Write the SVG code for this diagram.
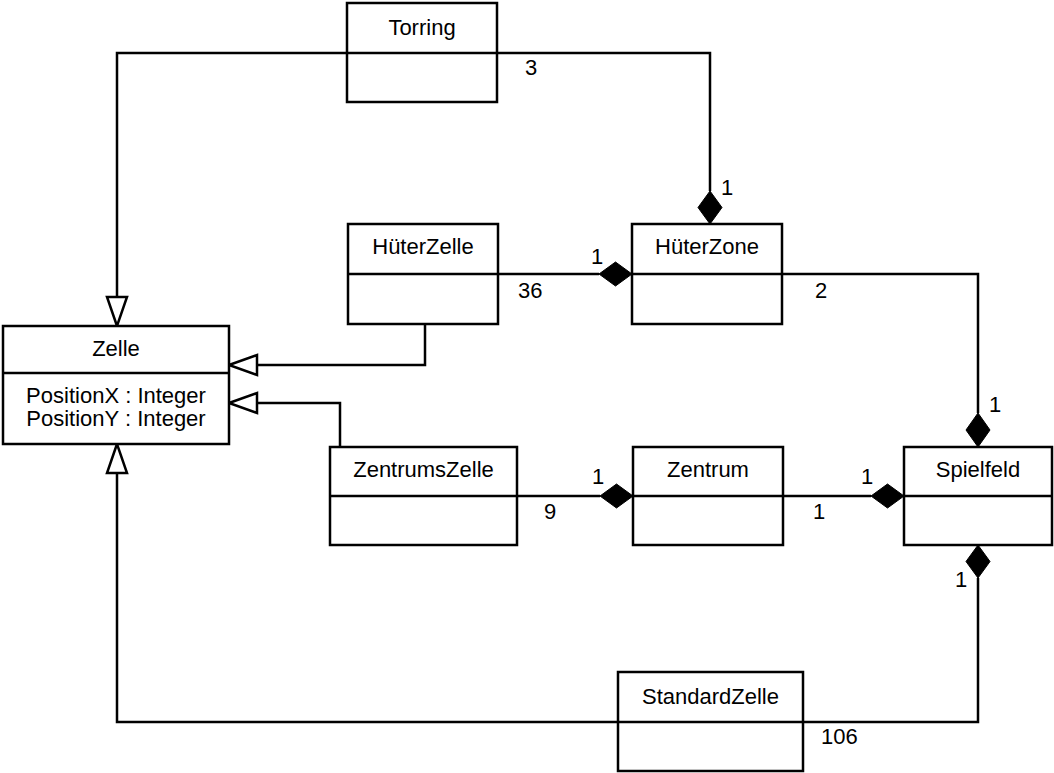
<svg xmlns="http://www.w3.org/2000/svg" width="1054" height="773" viewBox="0 0 1054 773">
<style>
.box{fill:#fff;stroke:#000;stroke-width:2.5}
.div{stroke:#000;stroke-width:2.5}
.ln{fill:none;stroke:#000;stroke-width:2.5}
.tri{fill:#fff;stroke:#000;stroke-width:2.5}
.dia{fill:#000;stroke:#000;stroke-width:1}
text{font-family:"Liberation Sans",Arial,sans-serif;font-size:22px;fill:#000}
.c{text-anchor:middle}
</style>
<rect width="1054" height="773" fill="#fff"/>
<g id="connectors">
<polyline class="ln" points="347,53 117,53 117,297"/>
<polygon class="tri" points="117,326 107,297 127,297"/>
<polyline class="ln" points="497,53 710,53 710,191"/>
<polygon class="dia" points="710,224 698,207.5 710,191 722,207.5"/>
<text x="525" y="75">3</text>
<text x="721" y="195">1</text>
<polyline class="ln" points="425,324 425,365 257,365"/>
<polygon class="tri" points="229,365 257,355 257,375"/>
<polyline class="ln" points="498,274 599,274"/>
<polygon class="dia" points="632,274 615.5,262 599,274 615.5,286"/>
<text x="518" y="298">36</text>
<text x="591" y="264">1</text>
<polyline class="ln" points="782,274 978,274 978,413"/>
<polygon class="dia" points="978,447 966,430 978,413 990,430"/>
<text x="815" y="298">2</text>
<text x="989" y="412">1</text>
<polyline class="ln" points="340,447 340,403 257,403"/>
<polygon class="tri" points="229,403 257,393 257,413"/>
<polyline class="ln" points="517,496 600,496"/>
<polygon class="dia" points="633,496 616.5,484 600,496 616.5,508"/>
<text x="544" y="519">9</text>
<text x="592" y="484">1</text>
<polyline class="ln" points="783,496 871,496"/>
<polygon class="dia" points="904,496 887.5,484 871,496 887.5,508"/>
<text x="813" y="519">1</text>
<text x="861" y="484">1</text>
<polyline class="ln" points="618,722 117,722 117,473"/>
<polygon class="tri" points="117,444 107,473 127,473"/>
<polyline class="ln" points="803,722 978,722 978,578"/>
<polygon class="dia" points="978,545 966,561.5 978,578 990,561.5"/>
<text x="821" y="744">106</text>
<text x="955" y="587">1</text>
</g>
<g id="Torring">
<rect class="box" x="347" y="3" width="150" height="99"/>
<line class="div" x1="347" y1="53" x2="497" y2="53"/>
<text class="c" x="422" y="35">Torring</text>
</g>
<g id="HueterZelle">
<rect class="box" x="348" y="224" width="150" height="100"/>
<line class="div" x1="348" y1="274" x2="498" y2="274"/>
<text class="c" x="423" y="254">HüterZelle</text>
</g>
<g id="HueterZone">
<rect class="box" x="632" y="224" width="150" height="100"/>
<line class="div" x1="632" y1="274" x2="782" y2="274"/>
<text class="c" x="707" y="254">HüterZone</text>
</g>
<g id="Zelle">
<rect class="box" x="3" y="326" width="226" height="118"/>
<line class="div" x1="3" y1="373" x2="229" y2="373"/>
<text class="c" x="116" y="356">Zelle</text>
<text class="c" x="116" y="403">PositionX : Integer</text>
<text class="c" x="116" y="426">PositionY : Integer</text>
</g>
<g id="ZentrumsZelle">
<rect class="box" x="330" y="447" width="187" height="98"/>
<line class="div" x1="330" y1="496" x2="517" y2="496"/>
<text class="c" x="423.5" y="477">ZentrumsZelle</text>
</g>
<g id="Zentrum">
<rect class="box" x="633" y="447" width="150" height="98"/>
<line class="div" x1="633" y1="496" x2="783" y2="496"/>
<text class="c" x="708" y="477">Zentrum</text>
</g>
<g id="Spielfeld">
<rect class="box" x="904" y="447" width="148" height="98"/>
<line class="div" x1="904" y1="496" x2="1052" y2="496"/>
<text class="c" x="978" y="477">Spielfeld</text>
</g>
<g id="StandardZelle">
<rect class="box" x="618" y="672" width="185" height="99"/>
<line class="div" x1="618" y1="722" x2="803" y2="722"/>
<text class="c" x="710.5" y="704">StandardZelle</text>
</g>
</svg>
